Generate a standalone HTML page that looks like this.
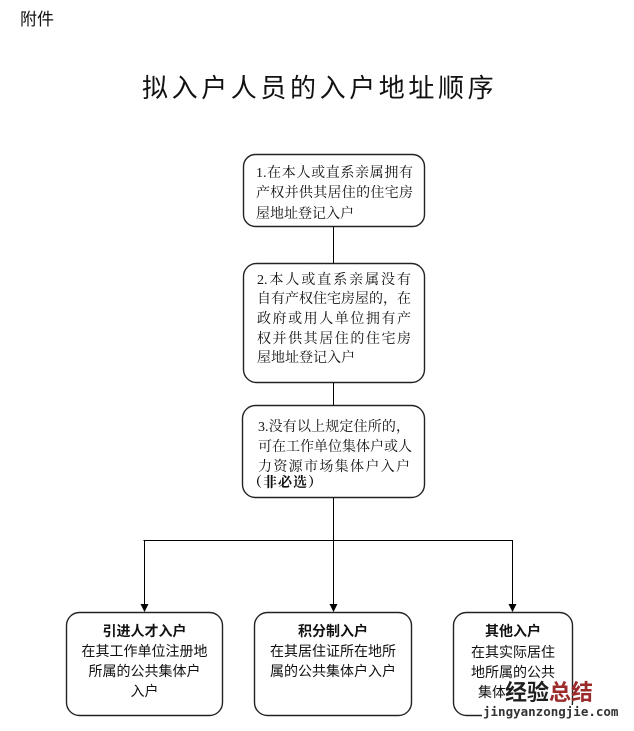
<!DOCTYPE html>
<html>
<head>
<meta charset="utf-8">
<style>
  html, body { margin:0; padding:0; background:#fff; }
  body { width:634px; height:731px; position:relative; overflow:hidden; }
  .t { position:absolute; white-space:nowrap; color:#111; }
  .sans { font-family:"Liberation Sans","Noto Sans CJK SC",sans-serif; }
  .serif { font-family:"Liberation Serif","Noto Serif CJK SC",serif; }
  .ln { position:absolute; font-size:14px; line-height:20px; height:20px; white-space:nowrap; color:#111; }
  .j { text-align:justify; text-align-last:justify; }
  .c { text-align:center; }
  .b { font-weight:bold; }
</style>
</head>
<body>

<div class="t sans" style="left:20px; top:10px; font-size:17px; line-height:20px;">附件</div>
<div class="t sans" style="left:142px; top:73px; font-size:26px; line-height:30px; letter-spacing:3.6px;">拟入户人员的入户地址顺序</div>

<svg width="634" height="731" style="position:absolute;left:0;top:0;" xmlns="http://www.w3.org/2000/svg">
  <g fill="none" stroke="#222" stroke-width="1.4">
    <rect x="243.5" y="154.5" width="181" height="72" rx="12" ry="12"/>
    <rect x="243.5" y="263.5" width="181" height="119" rx="13" ry="13"/>
    <rect x="242.5" y="405.5" width="182" height="92" rx="13" ry="13"/>
    <rect x="66.5" y="612.5" width="156" height="103" rx="13" ry="13"/>
    <rect x="254.5" y="612.5" width="157" height="103" rx="13" ry="13"/>
    <rect x="453.5" y="612.5" width="119" height="103" rx="13" ry="13"/>
  </g>
  <g fill="none" stroke="#000" stroke-width="1">
    <line x1="333.5" y1="227" x2="333.5" y2="263"/>
    <line x1="333.5" y1="383" x2="333.5" y2="405"/>
    <line x1="333.5" y1="498" x2="333.5" y2="605"/>
    <line x1="143.5" y1="540.5" x2="513" y2="540.5"/>
    <line x1="144.5" y1="540" x2="144.5" y2="605"/>
    <line x1="512.5" y1="540" x2="512.5" y2="605"/>
  </g>
  <g fill="#000">
    <polygon points="140.5,604 148.5,604 144.5,612"/>
    <polygon points="329.5,604 337.5,604 333.5,612"/>
    <polygon points="508.5,604 516.5,604 512.5,612"/>
  </g>
</svg>

<!-- Box 1 -->
<div class="ln serif j" style="left:256px; top:163.5px; width:157px;">1.在本人或直系亲属拥有</div>
<div class="ln serif j" style="left:256px; top:184px; width:157px;">产权并供其居住的住宅房</div>
<div class="ln serif" style="left:256px; top:204.5px;">屋地址登记入户</div>

<!-- Box 2 -->
<div class="ln serif j" style="left:257px; top:270.5px; width:154px;">2.本人或直系亲属没有</div>
<div class="ln serif j" style="left:257px; top:290px; width:154px;">自有产权住宅房屋的，在</div>
<div class="ln serif j" style="left:257px; top:309.5px; width:154px;">政府或用人单位拥有产</div>
<div class="ln serif j" style="left:257px; top:329.5px; width:154px;">权并供其居住的住宅房</div>
<div class="ln serif" style="left:257px; top:349px;">屋地址登记入户</div>

<!-- Box 3 -->
<div class="ln serif j" style="left:258px; top:417.5px; width:152px;">3.没有以上规定住所的，</div>
<div class="ln serif j" style="left:258px; top:437.5px; width:152px;">可在工作单位集体户或人</div>
<div class="ln serif j" style="left:258px; top:457.5px; width:152px;">力资源市场集体户入户</div>
<div class="ln serif b" style="left:248px; top:473.5px; letter-spacing:1px;">（非必选）</div>

<!-- Box A -->
<div class="ln sans c b" style="left:66px; top:620.5px; width:157px;">引进人才入户</div>
<div class="ln sans c" style="left:66px; top:640.5px; width:157px;">在其工作单位注册地</div>
<div class="ln sans c" style="left:66px; top:660.5px; width:157px;">所属的公共集体户</div>
<div class="ln sans c" style="left:66px; top:680.5px; width:157px;">入户</div>

<!-- Box B -->
<div class="ln sans c b" style="left:254px; top:620.5px; width:158px;">积分制入户</div>
<div class="ln sans c" style="left:254px; top:640.5px; width:158px;">在其居住证所在地所</div>
<div class="ln sans c" style="left:254px; top:660.5px; width:158px;">属的公共集体户入户</div>

<!-- Box C -->
<div class="ln sans c b" style="left:453px; top:621px; width:120px;">其他入户</div>
<div class="ln sans c" style="left:453px; top:641.5px; width:120px;">在其实际居住</div>
<div class="ln sans c" style="left:453px; top:661.5px; width:120px;">地所属的公共</div>
<div class="ln sans c" style="left:453px; top:681.5px; width:120px;">集体户入户</div>

<!-- Watermark -->
<div style="position:absolute; left:505px; top:683px; width:49px; height:22px; background:#fff;"></div>
<div style="position:absolute; left:482px; top:705px; width:142px; height:17px; background:#fff;"></div>
<div class="t sans b" style="left:505px; top:679px; font-size:22px; line-height:28px;"><span style="color:#1e1e1e;">经验</span><span style="color:#9b2a2a;">总结</span></div>
<div class="t b" style="left:483px; top:704px; font-family:'DejaVu Sans Mono','Liberation Mono',monospace; font-size:12.5px; line-height:16px; color:#333;">jingyanzongjie.com</div>

</body>
</html>
